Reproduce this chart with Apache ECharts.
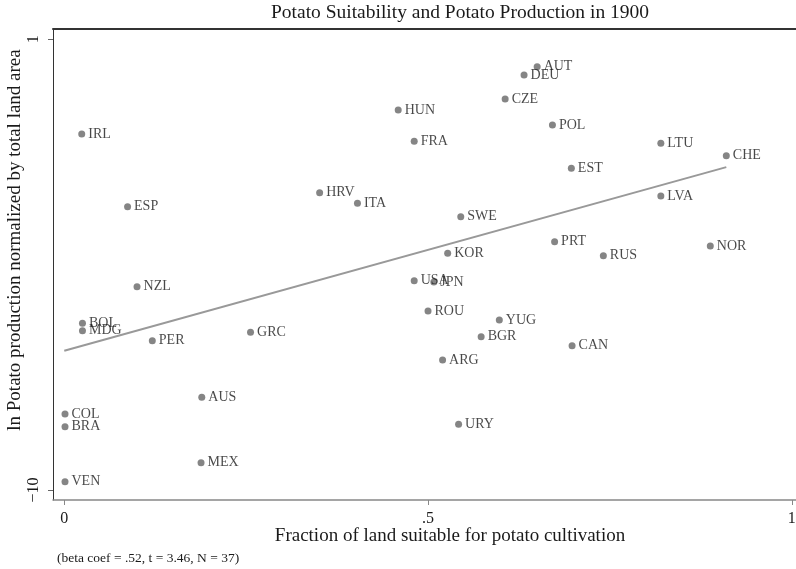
<!DOCTYPE html>
<html>
<head>
<meta charset="utf-8">
<script src="https://cdn.jsdelivr.net/npm/echarts@6/dist/echarts.min.js"></script>
<style>
html,body{margin:0;padding:0;background:#fff;}
#chart{width:796px;height:569px;}
</style>
</head>
<body>
<div id="chart"></div>
<script>
// ---- data ----
var countries = ['AUT','DEU','CZE','HUN','POL','FRA','LTU','CHE','EST','LVA','IRL','HRV','ESP','ITA','NZL','BOL','MDG','PER','GRC','AUS','SWE','PRT','KOR','RUS','NOR','USA','JPN','ROU','YUG','BGR','CAN','ARG','COL','BRA','MEX','VEN','URY'];
var suitability = [0.650,0.632,0.606,0.459,0.671,0.481,0.820,0.910,0.697,0.820,0.024,0.351,0.087,0.403,0.100,0.025,0.025,0.121,0.256,0.189,0.545,0.674,0.527,0.741,0.888,0.481,0.508,0.500,0.598,0.573,0.698,0.520,0.001,0.001,0.188,0.001,0.542];
var production = [0.331,0.129,-0.457,-0.726,-1.092,-1.490,-1.538,-1.841,-2.149,-2.825,-1.311,-2.744,-3.086,-3.003,-5.039,-5.932,-6.113,-6.357,-6.152,-7.738,-3.330,-3.940,-4.223,-4.282,-4.045,-4.892,-4.924,-5.632,-5.851,-6.259,-6.479,-6.828,-8.146,-8.456,-9.334,-9.798,-8.397];
var fitX = [0.0, 0.910];
var fitY = [-6.60, -2.12];
var xTicks = [0, 0.5, 1];
var xTickLabels = ['0', '.5', '1'];
var yTicks = [-10, 1];
var yTickLabels = ['\u221210', '1'];

var serif = 'Liberation Serif';
var chart = echarts.init(document.getElementById('chart'));

var pts = countries.map(function(c, i){ return [suitability[i], production[i], c]; });
var fitPts = fitX.map(function(x, i){ return [x, fitY[i]]; });

chart.setOption({
  animation: false,
  backgroundColor: '#fff',
  grid: { left: 53, right: 0, top: 29, bottom: 69, outerBoundsMode: 'none', containLabel: false },
  xAxis: [{
    type: 'value', min: -0.0155, max: 1.0058,
    splitLine: { show: false },
    axisLine: { show: true, onZero: false, lineStyle: { color: '#888', width: 1.5 } },
    axisTick: { show: true, customValues: xTicks, length: 5, lineStyle: { color: '#888' } },
    axisLabel: { customValues: xTicks, formatter: function(v){ return xTickLabels[xTicks.indexOf(v)]; },
      fontFamily: serif, fontSize: 16, color: '#1a1a1a', margin: 11 }
  }, {
    type: 'value', position: 'top', min: -0.0155, max: 1.0058,
    splitLine: { show: false }, axisTick: { show: false }, axisLabel: { show: false },
    axisLine: { show: true, onZero: false, lineStyle: { color: '#333', width: 2 } }
  }],
  yAxis: {
    type: 'value', min: -10.245, max: 1.251,
    splitLine: { show: false },
    axisLine: { show: true, onZero: false, lineStyle: { color: '#333', width: 1 } },
    axisTick: { show: true, customValues: yTicks, length: 5, lineStyle: { color: '#666' } },
    axisLabel: { customValues: yTicks, rotate: 90, formatter: function(v){ return yTickLabels[yTicks.indexOf(v)]; },
      fontFamily: serif, fontSize: 16, color: '#1a1a1a', margin: 11 }
  },
  series: [{
    type: 'line', data: fitPts, symbol: 'none', z: 1,
    lineStyle: { color: '#999', width: 2 }
  }, {
    type: 'scatter', data: pts, symbolSize: 7, z: 2,
    itemStyle: { color: '#666' },
    label: { show: true, position: 'right', distance: 3,
      formatter: function(p){ return p.value[2]; },
      fontFamily: serif, fontSize: 14, color: '#1a1a1a' },
    labelLayout: { hideOverlap: false }
  }],
  graphic: [{
    type: 'text', x: 460, y: 13,
    style: { text: 'Potato Suitability and Potato Production in 1900', textAlign: 'center', textVerticalAlign: 'middle',
      font: '19.5px "Liberation Serif"', fill: '#1a1a1a' }
  }, {
    type: 'text', x: 450, y: 536,
    style: { text: 'Fraction of land suitable for potato cultivation', textAlign: 'center', textVerticalAlign: 'middle',
      font: '19px "Liberation Serif"', fill: '#1a1a1a' }
  }, {
    type: 'text', x: 15, y: 240, rotation: Math.PI / 2,
    style: { text: 'ln Potato production normalized by total land area', textAlign: 'center', textVerticalAlign: 'middle',
      font: '19px "Liberation Serif"', fill: '#1a1a1a' }
  }, {
    type: 'text', x: 57, y: 558,
    style: { text: '(beta coef = .52, t = 3.46, N = 37)', textAlign: 'left', textVerticalAlign: 'middle',
      font: '13.5px "Liberation Serif"', fill: '#1a1a1a' }
  }]
});
</script>
</body>
</html>
